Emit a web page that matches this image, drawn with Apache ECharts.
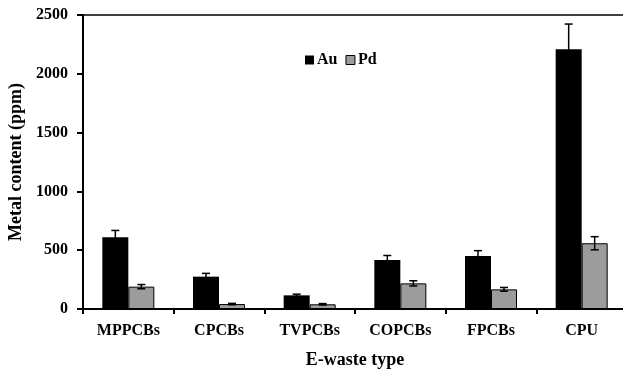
<!DOCTYPE html>
<html>
<head>
<meta charset="utf-8">
<script src="https://cdn.jsdelivr.net/npm/echarts@6/dist/echarts.min.js"></script>
<style>html,body{margin:0;padding:0;background:#fff}#c{width:623px;height:376px}</style>
</head>
<body>
<div id="c"></div>
<script>
const categories = ['MPPCBs', 'CPCBs', 'TVPCBs', 'COPCBs', 'FPCBs', 'CPU'];
const auValues = [610, 275, 116, 417, 451, 2208];
const auErrors = [58, 28, 10, 38, 45, 215];
const pdValues = [190, 42, 40, 218, 167, 559];
const pdErrors = [18, 6, 6, 22, 16, 56];
const yTicks = [0, 500, 1000, 1500, 2000, 2500];

const FONT = '"Liberation Serif", "Times New Roman", serif';
const chart = echarts.init(document.getElementById('c'), null, {renderer: 'canvas'});

const BAR_W = 26;

function errSeries(name, values, errors, offset) {
  return {
    type: 'custom',
    name: name + ' err',
    z: 10,
    silent: true,
    data: values.map((v, i) => [i, v, errors[i]]),
    renderItem: function (params, api) {
      const i = api.value(0), v = api.value(1), e = api.value(2);
      const pTop = api.coord([i, v + e]);
      const pBot = api.coord([i, v - e]);
      const x = pTop[0] + offset;
      const cap = 4;
      const style = {stroke: '#000', lineWidth: 1.5, fill: null};
      return {
        type: 'group',
        children: [
          {type: 'line', shape: {x1: x, y1: pTop[1], x2: x, y2: pBot[1]}, style: style},
          {type: 'line', shape: {x1: x - cap, y1: pTop[1], x2: x + cap, y2: pTop[1]}, style: style},
          {type: 'line', shape: {x1: x - cap, y1: pBot[1], x2: x + cap, y2: pBot[1]}, style: style}
        ]
      };
    }
  };
}

chart.setOption({
  animation: false,
  backgroundColor: '#fff',
  grid: {left: 83, right: -4, top: 15, bottom: 67, outerBoundsMode: 'none', containLabel: false,
         show: true, borderColor: '#000', borderWidth: 1.5, backgroundColor: 'transparent'},
  legend: {
    data: [{name: 'Au', itemStyle: {color: '#000'}}, {name: 'Pd', itemStyle: {color: '#9c9c9c', borderColor: '#000', borderWidth: 1}}],
    left: 300, top: 47,
    itemWidth: 9, itemHeight: 9, itemGap: 8,
    icon: 'rect',
    textStyle: {fontFamily: FONT, fontWeight: 'bold', fontSize: 16, color: '#000', padding: [0, 0, 0, -2]}
  },
  xAxis: {
    type: 'category',
    data: categories,
    boundaryGap: true,
    name: 'E-waste type',
    nameLocation: 'middle',
    nameGap: 42,
    nameTextStyle: {fontFamily: FONT, fontWeight: 'bold', fontSize: 18, color: '#000'},
    axisLine: {lineStyle: {color: '#000', width: 2}},
    axisTick: {show: true, length: 5, lineStyle: {color: '#000', width: 2}},
    axisLabel: {fontFamily: FONT, fontWeight: 'bold', fontSize: 16, color: '#000', margin: 14},
    splitLine: {show: false}
  },
  yAxis: {
    type: 'value',
    min: yTicks[0], max: yTicks[yTicks.length - 1], interval: yTicks[1] - yTicks[0],
    name: 'Metal content (ppm)',
    nameLocation: 'middle',
    nameGap: 55,
    nameTextStyle: {fontFamily: FONT, fontWeight: 'bold', fontSize: 18, color: '#000'},
    axisLine: {show: true, lineStyle: {color: '#000', width: 2}},
    axisTick: {show: true, length: 6, lineStyle: {color: '#000', width: 2}},
    axisLabel: {fontFamily: FONT, fontWeight: 'bold', fontSize: 16, color: '#000', margin: 15,
                formatter: v => String(v)},
    splitLine: {show: false}
  },
  series: [
    {name: 'Au', type: 'bar', data: auValues, barWidth: BAR_W, barGap: '0%', itemStyle: {color: '#000'}},
    {name: 'Pd', type: 'bar', data: pdValues, barWidth: BAR_W, barGap: '0%', itemStyle: {color: '#9c9c9c', borderColor: '#000', borderWidth: 1}},
    errSeries('Au', auValues, auErrors, -BAR_W / 2),
    errSeries('Pd', pdValues, pdErrors, BAR_W / 2)
  ]
});
</script>
</body>
</html>
